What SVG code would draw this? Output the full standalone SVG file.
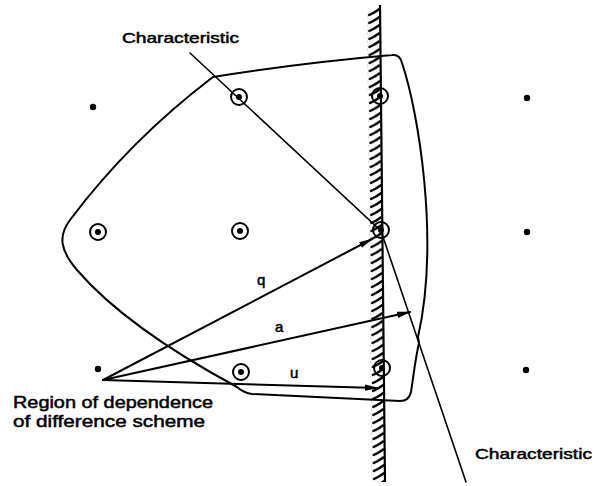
<svg xmlns="http://www.w3.org/2000/svg" width="596" height="486" viewBox="0 0 596 486">
  <style>
    .ln { fill: none; stroke: #000; stroke-width: 2; stroke-linejoin: round; stroke-linecap: round; }
    .thin { fill: none; stroke: #000; stroke-width: 1.6; stroke-linecap: round; }
    .node circle.ring { fill: none; stroke: #000; stroke-width: 2; }
    .dot { fill: #000; }
    text { font-family: "Liberation Sans", Arial, sans-serif; fill: #000; stroke: #000; stroke-width: 0.5; }
    .lbl { font-size: 15px; }
    .big { font-size: 16.5px; }
  </style>
  <defs>
    <pattern id="hatch" x="367" y="8" width="13" height="8" patternUnits="userSpaceOnUse">
      <path d="M1,7.3 Q7,5 12.5,0.8" fill="none" stroke="#000" stroke-width="2.4"/>
    </pattern>
    <marker id="arr" viewBox="0 0 14 8" refX="13" refY="4" markerWidth="14" markerHeight="8" markerUnits="userSpaceOnUse" orient="auto">
      <path d="M0,0.8 L14,4 L0,7.2 Z" fill="#000"/>
    </marker>
  </defs>
  <rect width="596" height="486" fill="#fff"/>

  <!-- wall (boundary) -->
  <g id="wall" transform="rotate(-0.6 380 5)">
    <rect x="367" y="8" width="13" height="474" fill="url(#hatch)"/>
    <line x1="380" y1="5" x2="380" y2="482" stroke="#000" stroke-width="2.2"/>
  </g>

  <!-- region of dependence outline -->
  <g id="region">
    <path class="ln" d="M213,77 Q300,63 392,55 Q400,54 402,63 C418,110 440,240 418,337 L419,343 C415,360 413,380 411,392 Q409,401 400,401 L252,394 Q244,393 237,387 Q126,327 77,270 C60,250 58,236 70,220 Q130,140 213,77 Z"/>
  </g>

  <!-- connectors -->
  <g id="connectors">
    <polyline class="thin" points="190,53 381,231 466,482"/>
    <line class="ln" x1="103" y1="380" x2="372" y2="239" marker-end="url(#arr)"/>
    <line class="ln" x1="103" y1="380" x2="410" y2="312" marker-end="url(#arr)"/>
    <line class="ln" x1="103" y1="380" x2="378" y2="388" marker-end="url(#arr)"/>
  </g>

  <!-- grid points -->
  <g id="p-0-0" class="node"><circle class="dot" cx="93" cy="107" r="3.2"/></g>
  <g id="p-1-0" class="node"><circle class="ring" cx="239" cy="97" r="8"/><circle class="dot" cx="239" cy="97" r="3"/></g>
  <g id="p-2-0" class="node"><circle class="ring" cx="380" cy="96" r="8"/><circle class="dot" cx="380" cy="96" r="3"/></g>
  <g id="p-3-0" class="node"><circle class="dot" cx="527" cy="98" r="3.2"/></g>
  <g id="p-0-1" class="node"><circle class="ring" cx="98" cy="232" r="8"/><circle class="dot" cx="98" cy="232" r="3"/></g>
  <g id="p-1-1" class="node"><circle class="ring" cx="240" cy="231" r="8"/><circle class="dot" cx="240" cy="231" r="3"/></g>
  <g id="p-2-1" class="node"><circle class="ring" cx="381" cy="230" r="8"/><circle class="dot" cx="381" cy="230" r="3"/></g>
  <g id="p-3-1" class="node"><circle class="dot" cx="527" cy="232" r="3.2"/></g>
  <g id="p-0-2" class="node"><circle class="dot" cx="98" cy="369" r="3.2"/></g>
  <g id="p-1-2" class="node"><circle class="ring" cx="241" cy="372" r="8"/><circle class="dot" cx="241" cy="372" r="3"/></g>
  <g id="p-2-2" class="node"><circle class="ring" cx="382" cy="368" r="8"/><circle class="dot" cx="382" cy="368" r="3"/></g>
  <g id="p-3-2" class="node"><circle class="dot" cx="526" cy="370" r="3.2"/></g>

  <!-- labels -->
  <g id="labels">
    <text class="lbl" x="122" y="43" textLength="117" lengthAdjust="spacingAndGlyphs">Characteristic</text>
    <text class="lbl" x="475" y="459" textLength="117" lengthAdjust="spacingAndGlyphs">Characteristic</text>
    <text class="lbl" x="257" y="285">q</text>
    <text class="lbl" x="275" y="332">a</text>
    <text class="lbl" x="290" y="378">u</text>
    <text class="big" x="13" y="408" textLength="200" lengthAdjust="spacingAndGlyphs">Region of dependence</text>
    <text class="big" x="13" y="427" textLength="192" lengthAdjust="spacingAndGlyphs">of difference scheme</text>
  </g>
</svg>
